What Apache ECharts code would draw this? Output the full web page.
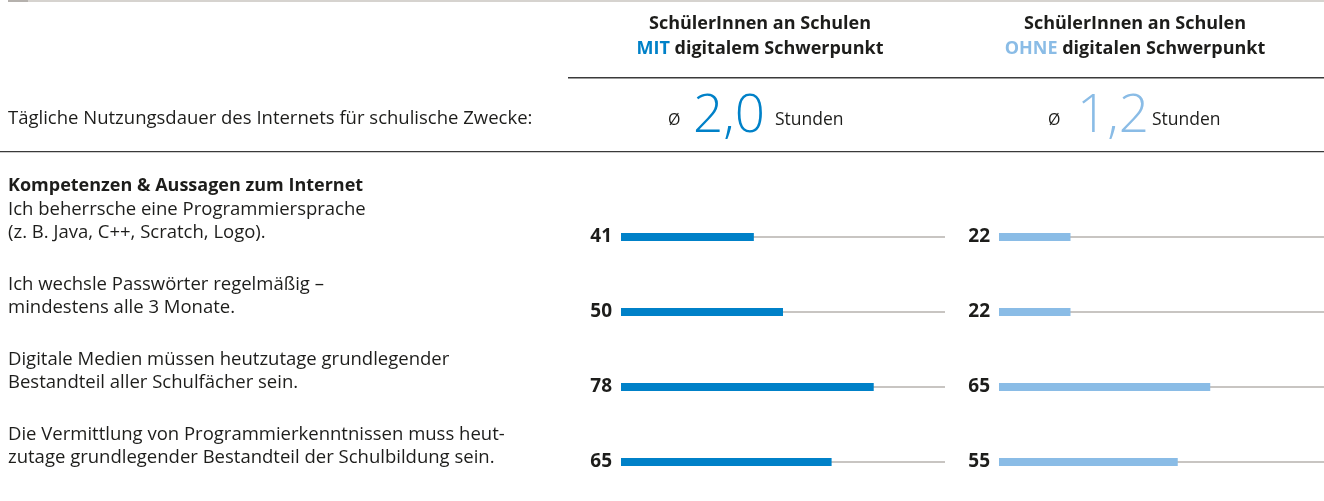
<!DOCTYPE html>
<html>
<head>
<meta charset="utf-8">
<script src="https://cdn.jsdelivr.net/npm/echarts@6/dist/echarts.min.js"></script>
<style>
  html, body { margin: 0; padding: 0; background: #fff; }
  #chart { width: 1324px; height: 501px; }
</style>
</head>
<body>
<div id="chart"></div>
<script>
// ===== Daten =====
const statements = [
    'Ich beherrsche eine Programmiersprache\n(z. B. Java, C++, Scratch, Logo).',
    'Ich wechsle Passwörter regelmäßig –\nmindestens alle 3 Monate.',
    'Digitale Medien müssen heutzutage grundlegender\nBestandteil aller Schulfächer sein.',
    'Die Vermittlung von Programmierkenntnissen muss heut-\nzutage grundlegender Bestandteil der Schulbildung sein.'
]
const mitValues = [41, 50, 78, 65]
const ohneValues = [22, 22, 65, 55]
const avgHours = ['2,0', '1,2']
const groupLabels = ['MIT', 'OHNE']
const groupRest = ['digitalem Schwerpunkt', 'digitalen Schwerpunkt']

// ===== Stil =====
const FONT = '"Open Sans", "Noto Sans", sans-serif'
const DARK = '#1d1d1b'
const BLUE = '#0081c8'
const LIGHT = '#8abce6'
const colColors = [BLUE, LIGHT]

const text = (x, y, str, s = {}) => ({
    type: 'text', x, y, silent: true,
    style: Object.assign({
        text: str, fill: DARK, fontSize: 18.5, fontFamily: FONT, fontWeight: 'normal',
        align: 'left', verticalAlign: 'middle'
    }, s)
})
const rect = (x, y, w, h, fill) => ({ type: 'rect', silent: true, shape: { x, y, width: w, height: h }, style: { fill } })

const colCenter = [760, 1135]
const avgPos = [
    { o: 668, n: 693, s: 775 },
    { o: 1048, n: 1077, s: 1152 }
]

const graphic = [
    rect(8, 0, 1316, 2, '#d6d3cf'),
    rect(8, 0, 20, 2, '#b5b1ad'),
    rect(568, 77, 756, 1.5, '#3a3a3a'),
    rect(0, 151, 1324, 1.2, '#3a3a3a'),
    text(8, 119, 'Tägliche Nutzungsdauer des Internets für schulische Zwecke:'),
    text(8, 186, 'Kompetenzen & Aussagen zum Internet', { fontWeight: 'bold', fontSize: 18 })
]

colCenter.forEach((cx, i) => {
    graphic.push(text(cx, 24, 'SchülerInnen an Schulen', { align: 'center', fontWeight: 'bold', fontSize: 18 }))
    graphic.push(text(cx, 49, `{g|${groupLabels[i]}} ${groupRest[i]}`, {
        align: 'center', fontWeight: 'bold', fontSize: 18,
        rich: { g: { fill: colColors[i], fontWeight: 'bold', fontSize: 18, fontFamily: FONT } }
    }))
    const p = avgPos[i]
    graphic.push(text(p.o, 120, 'Ø', { fontSize: 16 }))
    graphic.push(text(p.n, 117, avgHours[i], { fontSize: 53, fontWeight: 300, fill: colColors[i] }))
    graphic.push(text(p.s, 120, 'Stunden', { fontSize: 17.5 }))
})

statements.forEach((s, i) => {
    graphic.push(text(8, 198.5 + i * 75, s, { verticalAlign: 'top', lineHeight: 23 }))
})

// ===== Chart =====
const chart = echarts.init(document.getElementById('chart'))

const grids = [
    { left: 621, top: 237, width: 324, height: 225 },
    { left: 999, top: 237, width: 325, height: 225 }
]

chart.setOption({
    animation: false,
    textStyle: { fontFamily: FONT },
    grid: grids,
    xAxis: grids.map((g, i) => ({ gridIndex: i, type: 'value', min: 0, max: 100, show: false })),
    yAxis: grids.map((g, i) => ({
        gridIndex: i,
        type: 'category',
        data: statements,
        inverse: true,
        boundaryGap: false,
        axisLine: { show: false },
        axisTick: { show: false },
        axisLabel: { show: false },
        splitLine: { show: true, interval: 0, lineStyle: { color: '#c8c5c2', width: 2 } }
    })),
    series: [mitValues, ohneValues].map((vals, i) => ({
        type: 'bar',
        xAxisIndex: i,
        yAxisIndex: i,
        data: vals,
        barWidth: 8,
        clip: false,
        silent: true,
        itemStyle: { color: colColors[i] },
        label: {
            show: true, position: 'left', distance: 9,
            fontSize: 19, fontWeight: 'bold', color: DARK, fontFamily: FONT
        }
    })),
    graphic
})
</script>
</body>
</html>
